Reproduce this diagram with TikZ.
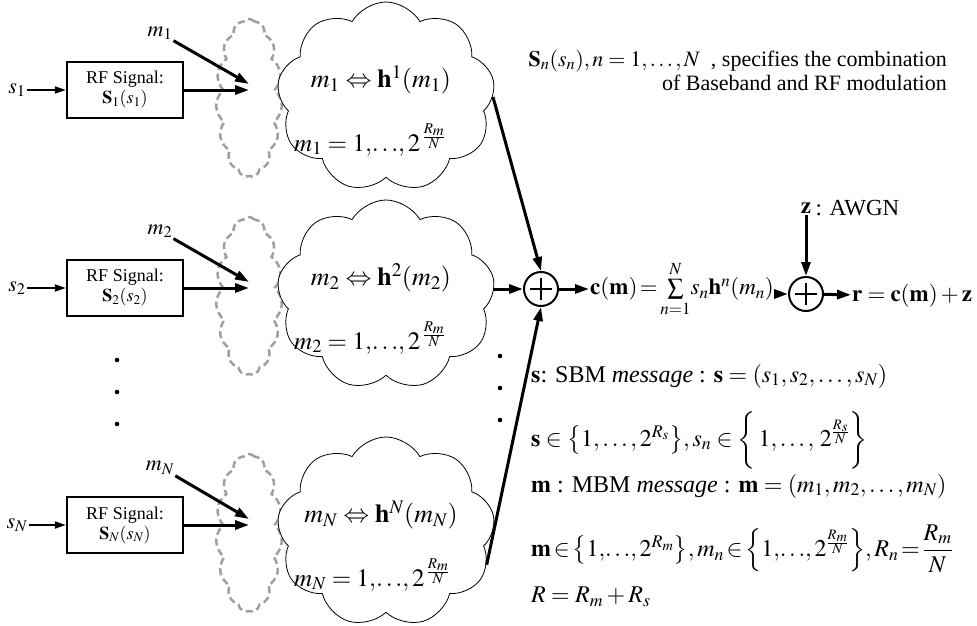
\documentclass[tikz,border=0pt]{standalone}
\usepackage{amsmath}
\usepackage{mathptmx}
\usepackage{fontspec}
\setmainfont{Liberation Serif}
\usetikzlibrary{arrows.meta,positioning,shapes.symbols}
\tikzset{
  >={Triangle[length=14pt,width=9pt]},
  rfbox/.style={draw,line width=2.4pt,minimum width=116pt,minimum height=56pt,inner sep=1pt,align=center,font=\fontsize{18}{20}\selectfont},
  mcloud/.style={cloud,draw,fill=white,line width=0.8pt,cloud puffs=9,cloud puff arc=120,cloud ignores aspect,minimum width=218pt,minimum height=190pt,inner sep=0pt},
  dcloud/.style={cloud,draw=gray!75,line width=2.5pt,dash pattern=on 7pt off 4pt,cloud puffs=15,cloud puff arc=100,cloud ignores aspect,minimum width=66pt,minimum height=158pt,inner sep=0pt},
  adder/.style={circle,draw,line width=2pt,minimum size=34pt,inner sep=0pt,
    path picture={\draw[line width=1.8pt] ([xshift=-11pt]path picture bounding box.center) -- ([xshift=11pt]path picture bounding box.center)
      ([yshift=-11pt]path picture bounding box.center) -- ([yshift=11pt]path picture bounding box.center);}},
  arr/.style={->,line width=3pt},
  sarr/.style={->,line width=2pt,>={Triangle[length=11pt,width=7pt]}},
  lab/.style={inner sep=1pt,font=\fontsize{22}{26}\selectfont},
  ctext/.style={inner sep=0pt,font=\fontsize{26}{30}\selectfont},
  rtext/.style={inner sep=0pt,anchor=west,font=\fontsize{25}{28}\selectfont},
  eq/.style={inner sep=1pt,font=\fontsize{23}{26}\selectfont},
  note/.style={inner sep=0pt,font=\fontsize{22}{24}\selectfont},
  msg/.style={inner sep=0pt,anchor=west,font=\fontsize{24}{26}\selectfont},
}

\begin{document}
\begin{tikzpicture}[x=1pt,y=-1pt]
\useasboundingbox (0,0) rectangle (977,626);
% one branch per RF signal
\foreach \k/\yy in {1/90,2/288,N/525}{
  \node[dcloud] (d\k) at (249,\yy+8) {};
  \node[mcloud] (w\k) at (386,\yy+7) {};
  \node[lab] (s\k) at (17,\yy) {$s_\k$};
  \node[rfbox] (box\k) at (125,\yy) {RF Signal:\\$\mathbf{S}_\k(s_\k)$};
  \node[lab] (m\k) at (160,\yy-57) {$m_\k$};
  \coordinate (in\k) at (249,\yy);
  \node[ctext] (map\k) at (381,\yy-10) {$m_\k \Leftrightarrow \mathbf{h}^\k(m_\k)$};
  \node[rtext] (rng\k) at (294,\yy+50) {$m_\k = 1,\!\ldots\!,2^{\,\frac{R_m}{N}}$};
  \draw[sarr] (s\k) -- (box\k);
  \draw[arr] (box\k) -- (in\k);
  \draw[arr] (m\k.south east) -- ([yshift=6pt]in\k);
}
\foreach \yy in {360,392,424}{
  \fill (117,\yy) circle (2.3pt);
  \fill (500,\yy-4) circle (2.3pt);
}
% combining and noise
\node[adder] (add1) at (541,289) {};
\draw[arr] (w1.east) -- (add1.north);
\draw[arr] (w2.east |- add1) -- (add1);
\draw[arr] (wN.-18) -- (add1.south);
\node[eq,anchor=west] (cm) at (589,289) {$\mathbf{c}(\mathbf{m})\!=\!\sum\limits_{n=1}^{N}\! s_n\mathbf{h}^n(m_n)$};
\draw[arr] (add1) -- (cm.west |- add1);
\node[adder] (add2) at (806,294) {};
\draw[arr] (cm.east |- add2) -- (add2);
\node[eq] (z) at (806,208) {$\mathbf{z}$};
\node[eq,right=2pt of z] (awgn) {: AWGN};
\draw[arr] (z) -- (add2);
\node[eq,anchor=west] (r) at (851,296) {$\mathbf{r} = \mathbf{c}(\mathbf{m}) + \mathbf{z}$};
\draw[arr] (add2) -- (r);
% notes
\node[note,anchor=north east,align=right] (spec) at (947,50) {$\mathbf{S}_n(s_n), n=1,\ldots,N$\ \ , specifies the combination\\of Baseband and RF modulation};
\node[msg] (l1) at (531,376) {$\mathbf{s}$: SBM \textit{message} : $\mathbf{s} = (s_1,s_2,\ldots,s_N)$};
\node[msg] (l2) at (531,440) {$\mathbf{s}\in\bigl\{1,\ldots,2^{R_s}\bigr\}, s_n\in\left\{\,1,\ldots,\,2^{\frac{R_s}{N}}\vcenter{\hbox{\rule{0pt}{48pt}}}\right\}$};
\node[msg] (l3) at (531,486) {$\mathbf{m}$ : MBM \textit{message} : $\mathbf{m} = (m_1,m_2,\ldots,m_N)$};
\node[msg] (l4) at (531,549) {$\mathbf{m}\!\in\!\bigl\{1,\!\ldots\!,2^{R_m}\bigr\}, m_n\!\in\!\left\{1,\!\ldots\!,2^{\frac{R_m}{N}}\vcenter{\hbox{\rule{0pt}{46pt}}}\right\}\!, R_n\!=\!\dfrac{R_m}{N}$};
\node[msg] (l5) at (531,597) {$R = R_m + R_s$};
\end{tikzpicture}
\end{document}
